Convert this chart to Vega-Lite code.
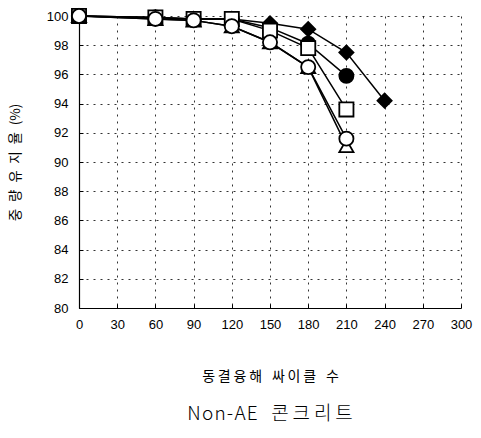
{
  "$schema": "https://vega.github.io/schema/vega-lite/v6.json",
  "width": 382,
  "height": 292,
  "padding": {"left": 8, "top": 5, "right": 5, "bottom": 5},
  "background": "white",
  "title": {
    "text": "N\u200ao\u200an\u200a-\u200aA\u200aE\u2002\u00a0콘\u2009크\u2009리\u2009트",
    "orient": "bottom",
    "font": "Noto Sans CJK KR",
    "fontSize": 19,
    "fontWeight": 300,
    "color": "black",
    "offset": 22
  },
  "config": {
    "view": {"stroke": null},
    "axis": {
      "labelFont": "Liberation Sans",
      "labelFontSize": 13,
      "labelColor": "black",
      "labelFlush": false,
      "titleFont": "Noto Sans CJK KR",
      "titleFontSize": 14,
      "titleFontWeight": "normal",
      "titleColor": "black",
      "domainColor": "black",
      "domainWidth": 1.2,
      "tickColor": "black",
      "tickSize": -4,
      "gridColor": "black",
      "gridDash": [2, 5],
      "gridWidth": 1,
      "gridOpacity": 0.8
    }
  },
  "data": {
    "values": [
      {"s": "D", "x": 0, "y": 100}, {"s": "D", "x": 60, "y": 99.9}, {"s": "D", "x": 90, "y": 99.8}, {"s": "D", "x": 120, "y": 99.8}, {"s": "D", "x": 150, "y": 99.5}, {"s": "D", "x": 180, "y": 99.1}, {"s": "D", "x": 210, "y": 97.5}, {"s": "D", "x": 240, "y": 94.2},
      {"s": "FC", "x": 0, "y": 100}, {"s": "FC", "x": 60, "y": 99.9}, {"s": "FC", "x": 90, "y": 99.8}, {"s": "FC", "x": 120, "y": 99.8}, {"s": "FC", "x": 150, "y": 99.2}, {"s": "FC", "x": 180, "y": 98.1}, {"s": "FC", "x": 210, "y": 95.9},
      {"s": "SQ", "x": 0, "y": 100}, {"s": "SQ", "x": 60, "y": 99.9}, {"s": "SQ", "x": 90, "y": 99.8}, {"s": "SQ", "x": 120, "y": 99.8}, {"s": "SQ", "x": 150, "y": 99.0}, {"s": "SQ", "x": 180, "y": 97.8}, {"s": "SQ", "x": 210, "y": 93.6},
      {"s": "TR", "x": 0, "y": 100}, {"s": "TR", "x": 60, "y": 99.8}, {"s": "TR", "x": 90, "y": 99.7}, {"s": "TR", "x": 120, "y": 99.3}, {"s": "TR", "x": 150, "y": 98.2}, {"s": "TR", "x": 180, "y": 96.5}, {"s": "TR", "x": 210, "y": 91.1},
      {"s": "OC", "x": 0, "y": 100}, {"s": "OC", "x": 60, "y": 99.8}, {"s": "OC", "x": 90, "y": 99.7}, {"s": "OC", "x": 120, "y": 99.3}, {"s": "OC", "x": 150, "y": 98.2}, {"s": "OC", "x": 180, "y": 96.5}, {"s": "OC", "x": 210, "y": 91.6}
    ]
  },
  "encoding": {
    "x": {
      "field": "x", "type": "quantitative",
      "scale": {"domain": [0, 300], "nice": false},
      "axis": {"values": [0, 30, 60, 90, 120, 150, 180, 210, 240, 270, 300], "title": "동\u2009결\u2009융\u2009해\u2002\u2009싸\u2009이\u2009클\u2002\u2009수", "labelPadding": 14, "titlePadding": 38}
    },
    "y": {
      "field": "y", "type": "quantitative",
      "scale": {"domain": [80, 100], "nice": false, "zero": false},
      "axis": {"values": [80, 82, 84, 86, 88, 90, 92, 94, 96, 98, 100], "title": "중\u2002량\u2002유\u2002지\u2002율\u2002(%)", "titleFontSize": 13.5, "labelPadding": 15, "titlePadding": 24}
    }
  },
  "layer": [
    {
      "mark": {"type": "line", "color": "black", "strokeWidth": 1.5},
      "encoding": {"detail": {"field": "s"}}
    },
    {
      "mark": {"type": "point", "filled": false, "strokeWidth": 1.8, "stroke": "black", "opacity": 1},
      "encoding": {
        "shape": {"field": "s", "type": "nominal", "legend": null,
          "scale": {"domain": ["D", "FC", "SQ", "TR", "OC"], "range": ["diamond", "circle", "square", "triangle-up", "circle"]}},
        "fill": {"field": "s", "type": "nominal", "legend": null,
          "scale": {"domain": ["D", "FC", "SQ", "TR", "OC"], "range": ["black", "black", "white", "white", "white"]}},
        "size": {"value": 200}
      }
    }
  ]
}
